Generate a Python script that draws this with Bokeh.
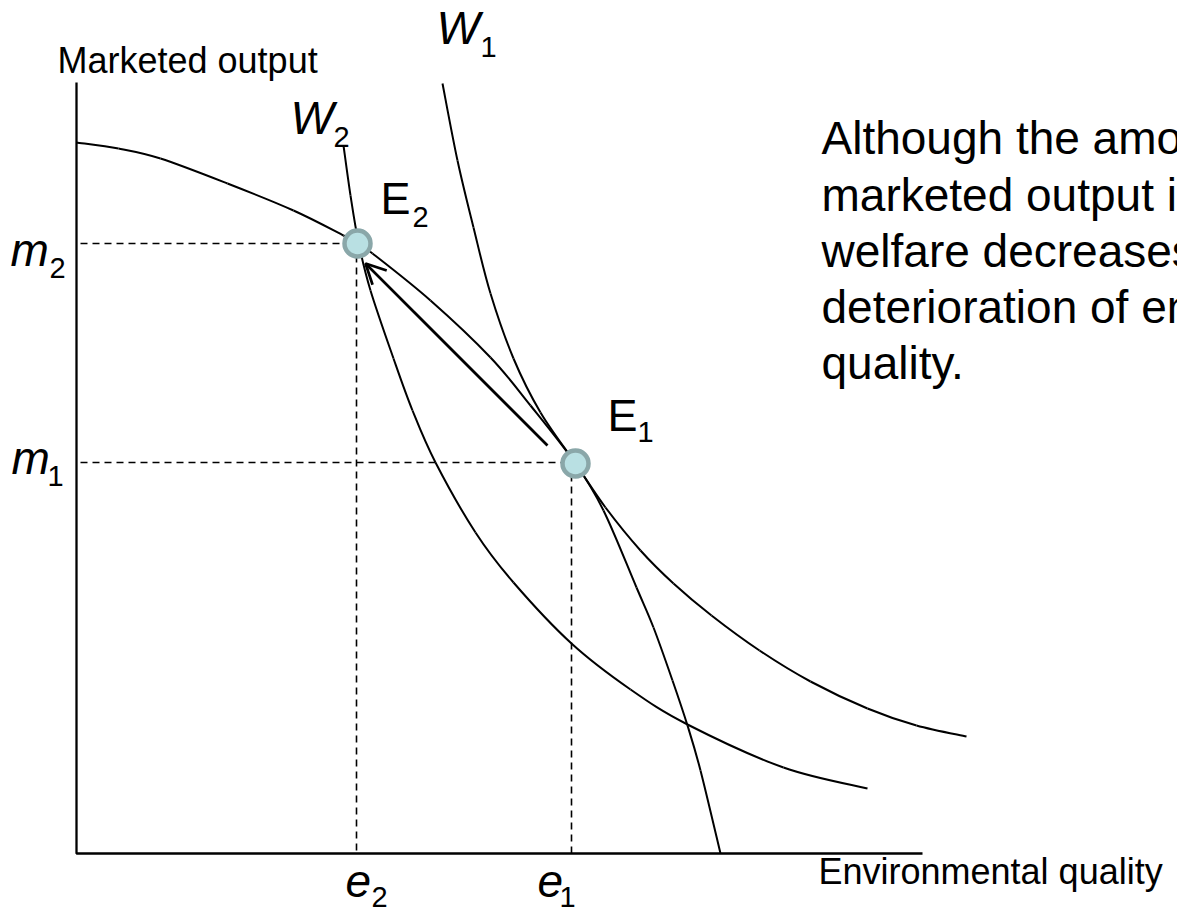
from bokeh.plotting import figure
from bokeh.models import Range1d, Arrow, OpenHead
from bokeh.core.properties import value
from bokeh.embed import file_html
from bokeh.resources import INLINE

# ---- data (x = environmental quality, y = marketed output) ----
ppf_x = [0.00, 0.42, 0.84, 1.51, 2.17, 2.67, 2.81, 2.96, 3.54, 4.14, 4.54, 4.99, 5.27, 5.60, 5.77, 5.96, 6.11, 6.24, 6.44]
ppf_y = [7.11, 7.05, 6.95, 6.70, 6.43, 6.18, 6.10, 6.00, 5.53, 4.96, 4.48, 3.90, 3.43, 2.66, 2.26, 1.73, 1.28, 0.83, 0.00]

w1_x = [3.66, 3.81, 3.97, 4.14, 4.37, 4.64, 4.99, 5.29, 5.64, 5.97, 6.35, 6.83, 7.34, 7.91, 8.40, 8.90]
w1_y = [7.70, 6.93, 6.26, 5.60, 4.95, 4.41, 3.90, 3.46, 3.03, 2.70, 2.38, 2.03, 1.72, 1.45, 1.28, 1.17]

w2_x = [2.67, 2.74, 2.82, 2.94, 3.17, 3.36, 3.59, 3.99, 4.37, 4.95, 5.54, 6.11, 7.07, 7.91]
w2_y = [7.08, 6.58, 6.11, 5.63, 4.95, 4.43, 3.91, 3.21, 2.71, 2.10, 1.64, 1.29, 0.86, 0.65]

eq_names = ["E2", "E1"]
eq_x = [2.81, 4.99]
eq_y = [6.10, 3.90]

e_vals = [2.80, 4.95]      # e2, e1 on the horizontal axis
m_vals = [6.10, 3.91]      # m2, m1 on the vertical axis

arrow_from = [4.71, 4.08]  # near E1
arrow_to = [2.89, 5.90]    # towards E2

axis_x_max = 8.46
axis_y_max = 7.71

paragraph = ["Although the amount of",
             "marketed output increases,",
             "welfare decreases due to",
             "deterioration of environmental",
             "quality."]

FONT = value("Liberation Sans")

p = figure(width=1177, height=913,
           x_range=Range1d(-0.76, 11.01), y_range=Range1d(-0.60, 8.53),
           output_backend="svg", toolbar_location=None,
           x_axis_type=None, y_axis_type=None, min_border=0)
p.grid.visible = False
p.outline_line_color = None
p.background_fill_color = "white"
p.border_fill_color = "white"

# dashed guides
p.segment(x0=[0.04, 0.04], y0=m_vals, x1=e_vals, y1=m_vals,
          line_color="black", line_width=1.6, line_dash="7 5")
p.segment(x0=e_vals, y0=m_vals, x1=e_vals, y1=[0, 0],
          line_color="black", line_width=1.6, line_dash="7 5")

# axes
p.line([0, 0, axis_x_max], [axis_y_max, 0, 0], line_color="black", line_width=2.3)


def smooth_curve(xs, ys):
    """Draw a smooth curve through the read points with Bezier segments."""
    X = [xs[0]] + list(xs) + [xs[-1]]
    Y = [ys[0]] + list(ys) + [ys[-1]]
    d = dict(x0=[], y0=[], x1=[], y1=[], cx0=[], cy0=[], cx1=[], cy1=[])
    for i in range(len(xs) - 1):
        d["x0"].append(X[i + 1]); d["y0"].append(Y[i + 1])
        d["x1"].append(X[i + 2]); d["y1"].append(Y[i + 2])
        d["cx0"].append(X[i + 1] + (X[i + 2] - X[i]) / 6)
        d["cy0"].append(Y[i + 1] + (Y[i + 2] - Y[i]) / 6)
        d["cx1"].append(X[i + 2] - (X[i + 3] - X[i + 1]) / 6)
        d["cy1"].append(Y[i + 2] - (Y[i + 3] - Y[i + 1]) / 6)
    p.bezier(**d, line_color="black", line_width=2.0)


for xs, ys in [(ppf_x, ppf_y), (w1_x, w1_y), (w2_x, w2_y)]:
    smooth_curve(xs, ys)

# arrow E1 -> E2
p.add_layout(Arrow(end=OpenHead(size=20, line_width=2.7, line_color="black"),
                   x_start=arrow_from[0], y_start=arrow_from[1],
                   x_end=arrow_to[0], y_end=arrow_to[1],
                   line_width=2.7, line_color="black"))

# equilibrium points
p.scatter(eq_x, eq_y, size=26, fill_color="#b9e0e3", line_color="#8aa7a9", line_width=4.5)

PX = 0.01  # data units per pixel (both axes)


def txt(xs, ys, texts, size_px, style="normal"):
    # ys are the wanted baselines; the renderer sets text ~0.37em lower, so lift it
    lift = 0.37 * size_px * PX
    p.text(x=xs, y=[y + lift for y in ys], text=texts, text_font=FONT,
           text_font_size=f"{size_px}px", text_font_style=style,
           text_align="left", text_baseline="alphabetic", text_color="black")


# main italic symbols
txt([3.60, 2.14, -0.66, -0.65, 2.69, 4.61],
    [8.08, 7.18, 5.86, 3.78, -0.45, -0.45],
    ["W", "W", "m", "m", "e", "e"], 46, "italic")
# upright E labels
txt([3.04, 5.31], [6.38, 4.21], ["E", "E"], 45)
# subscripts
txt([4.04, 2.57, 3.36, 5.61, -0.27, -0.29, 2.95, 4.83],
    [7.96, 7.06, 6.26, 4.11, 5.75, 3.67, -0.54, -0.54],
    ["1", "2", "2", "1", "2", "1", "2", "1"], 29)

# axis titles
txt([-0.19], [7.80], ["Marketed output"], 36)
txt([7.42], [-0.31], ["Environmental quality"], 36)

# paragraph
txt([7.45] * len(paragraph), [6.98, 6.41, 5.85, 5.29, 4.73], paragraph, 46)

open("out.html", "w").write(file_html(p, INLINE))
